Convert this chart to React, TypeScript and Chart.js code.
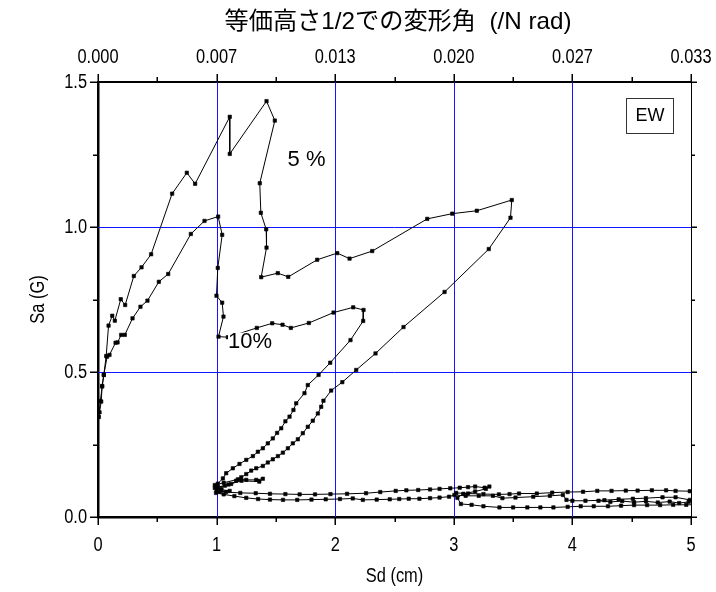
import React, { useEffect, useRef } from "react";
import { Chart, registerables } from "chart.js";

Chart.register(...registerables);

// ---- data ----
const sd5 = [0.005, 0.013, 0.027, 0.035, 0.049, 0.069, 0.089, 0.12, 0.142, 0.192, 0.229, 0.302, 0.367, 0.448, 0.625, 0.749, 0.819, 1.111, 1.111, 1.421, 1.491, 1.364, 1.373, 1.418, 1.421, 1.376, 1.516, 1.604, 1.848, 2.017, 2.121, 2.312, 2.776, 2.987, 3.194, 3.489, 3.478, 3.295, 2.922, 2.576, 2.34, 2.177, 2.06, 1.966, 1.901, 1.882, 1.854, 1.811, 1.769, 1.727, 1.685, 1.643, 1.601, 1.559, 1.517, 1.474, 1.432, 1.39, 1.334, 1.292, 1.25, 1.208, 1.165, 1.123, 1.07, 1.01, 0.985, 1.04, 1.11, 1.03, 0.995, 1.06, 1.15, 1.25, 1.35, 1.45, 1.56, 1.68, 1.8, 1.92, 2.04, 2.148, 2.233, 2.35, 2.46, 2.54, 2.62, 2.71, 2.8, 2.88, 2.96, 3.005, 3.1, 3.21, 3.33, 3.41, 3.52, 3.67, 3.81, 3.92, 3.95, 4.0, 4.11, 4.27, 4.39, 4.51, 4.62, 4.76, 4.87, 4.99, 5.12, 5.12, 4.99, 4.87, 4.79, 4.67, 4.55, 4.45, 4.33, 4.21, 4.09, 3.96, 3.83, 3.7, 3.55, 3.47, 3.38, 3.25, 3.12, 3.02];
const sa5 = [0.345, 0.361, 0.398, 0.452, 0.49, 0.555, 0.66, 0.694, 0.677, 0.751, 0.731, 0.831, 0.861, 0.906, 1.115, 1.187, 1.149, 1.38, 1.252, 1.434, 1.367, 1.151, 1.049, 0.992, 0.929, 0.827, 0.841, 0.828, 0.887, 0.91, 0.891, 0.917, 1.028, 1.046, 1.056, 1.093, 1.032, 0.924, 0.776, 0.655, 0.564, 0.507, 0.465, 0.436, 0.401, 0.38, 0.357, 0.332, 0.311, 0.289, 0.268, 0.254, 0.237, 0.222, 0.21, 0.199, 0.188, 0.176, 0.168, 0.16, 0.148, 0.137, 0.125, 0.114, 0.108, 0.104, 0.1, 0.094, 0.09, 0.087, 0.083, 0.078, 0.072, 0.066, 0.062, 0.06, 0.059, 0.059, 0.06, 0.061, 0.062, 0.064, 0.059, 0.06, 0.061, 0.062, 0.063, 0.063, 0.065, 0.067, 0.07, 0.076, 0.073, 0.073, 0.073, 0.065, 0.067, 0.07, 0.073, 0.076, 0.059, 0.056, 0.056, 0.058, 0.061, 0.063, 0.065, 0.068, 0.068, 0.059, 0.062, 0.088, 0.089, 0.09, 0.092, 0.092, 0.091, 0.091, 0.09, 0.09, 0.087, 0.086, 0.084, 0.081, 0.081, 0.079, 0.078, 0.079, 0.081, 0.083];

const sd10 = [0.005, 0.02, 0.035, 0.049, 0.077, 0.097, 0.148, 0.165, 0.195, 0.226, 0.291, 0.358, 0.417, 0.513, 0.592, 0.783, 0.898, 1.013, 1.047, 1.01, 0.999, 1.047, 1.058, 1.016, 1.095, 1.339, 1.469, 1.556, 1.626, 1.778, 1.986, 2.152, 2.239, 2.236, 2.129, 1.958, 1.86, 1.769, 1.741, 1.671, 1.648, 1.615, 1.58, 1.545, 1.51, 1.474, 1.432, 1.39, 1.348, 1.306, 1.25, 1.193, 1.137, 1.081, 1.053, 1.01, 0.985, 1.06, 1.18, 1.25, 1.334, 1.39, 1.36, 1.21, 1.1, 1.0, 1.04, 1.0, 1.08, 1.2, 1.33, 1.45, 1.58, 1.7, 1.83, 1.96, 2.1, 2.26, 2.38, 2.51, 2.6, 2.7, 2.8, 2.88, 2.97, 3.05, 3.12, 3.18, 3.26, 3.3, 3.27, 3.18, 3.08, 3.03, 3.06, 3.15, 3.25, 3.385, 3.5, 3.62, 3.73, 3.84, 3.96, 4.07, 4.18, 4.3, 4.41, 4.52, 4.63, 4.74, 4.85, 4.96, 5.1, 5.1, 4.98, 4.9, 4.82, 4.72, 4.62, 4.52, 4.42, 4.32, 4.22];
const sa10 = [0.345, 0.4, 0.45, 0.49, 0.553, 0.559, 0.601, 0.602, 0.628, 0.628, 0.685, 0.725, 0.746, 0.811, 0.838, 0.976, 1.021, 1.036, 0.973, 0.859, 0.763, 0.739, 0.691, 0.622, 0.62, 0.652, 0.668, 0.663, 0.652, 0.669, 0.705, 0.723, 0.714, 0.676, 0.61, 0.532, 0.49, 0.455, 0.427, 0.392, 0.369, 0.346, 0.33, 0.306, 0.29, 0.271, 0.254, 0.237, 0.225, 0.21, 0.197, 0.183, 0.168, 0.151, 0.133, 0.115, 0.11, 0.118, 0.13, 0.128, 0.128, 0.132, 0.122, 0.125, 0.112, 0.1, 0.096, 0.09, 0.086, 0.083, 0.082, 0.08, 0.079, 0.078, 0.078, 0.079, 0.08, 0.082, 0.086, 0.09, 0.092, 0.093, 0.095, 0.097, 0.099, 0.101, 0.103, 0.105, 0.101, 0.105, 0.097, 0.088, 0.08, 0.066, 0.045, 0.042, 0.037, 0.033, 0.033, 0.033, 0.033, 0.033, 0.035, 0.037, 0.037, 0.037, 0.039, 0.041, 0.041, 0.041, 0.042, 0.042, 0.043, 0.05, 0.052, 0.048, 0.053, 0.05, 0.054, 0.051, 0.055, 0.052, 0.056];

const seriesNames = ["5 %", "10%"];
const bottomTicks = [0, 1, 2, 3, 4, 5];
const topTickLabels = ["0.000", "0.007", "0.013", "0.020", "0.027", "0.033"];
const leftTicks = [0, 0.5, 1.0, 1.5];
const xGridValues = [1, 2, 3, 4];
const yGridValues = [0.5, 1.0];
const boxLabel = "EW";
const topTitle = "等価高さ1/2での変形角  (/N rad)";
const xTitle = "Sd (cm)";
const yTitle = "Sa (G)";

const FONT = "'Liberation Sans', Arial, 'Noto Sans CJK JP', sans-serif";
const BLUE = "rgb(20,20,255)";
const CONDENSE = 0.82;

const toPoints = (xs: number[], ys: number[]) => xs.map((x, i) => ({ x, y: ys[i] }));

function drawText(ctx: any, text: string, x: number, y: number, size: number, align: string, sx: number, rot = 0) {
  ctx.save();
  ctx.translate(x, y);
  if (rot) ctx.rotate(rot);
  ctx.scale(sx, 1);
  ctx.font = `${size}px ${FONT}`;
  ctx.textAlign = align;
  ctx.textBaseline = "middle";
  ctx.fillStyle = "#000";
  ctx.fillText(text, 0, 0);
  ctx.restore();
}

const decorPlugin = {
  id: "decor",
  beforeDatasetsDraw(chart: any) {
    const ctx = chart.ctx;
    const { left, right, top, bottom } = chart.chartArea;
    const xs = chart.scales.x;
    const ys = chart.scales.y;
    ctx.save();
    ctx.strokeStyle = BLUE;
    ctx.lineWidth = 1;
    ctx.beginPath();
    xGridValues.forEach((v) => {
      const px = Math.round(xs.getPixelForValue(v)) + 0.5;
      ctx.moveTo(px, top);
      ctx.lineTo(px, bottom);
    });
    yGridValues.forEach((v) => {
      const py = Math.round(ys.getPixelForValue(v)) + 0.5;
      ctx.moveTo(left, py);
      ctx.lineTo(right, py);
    });
    ctx.stroke();
    ctx.restore();
  },
  afterDatasetsDraw(chart: any) {
    const ctx = chart.ctx;
    const xs = chart.scales.x;
    const ys = chart.scales.y;
    ctx.save();
    ctx.font = `22px ${FONT}`;
    ctx.textAlign = "center";
    ctx.textBaseline = "middle";
    ctx.fillStyle = "#000";
    ctx.fillText(seriesNames[0], xs.getPixelForValue(1.758), ys.getPixelForValue(1.232));
    const tx = xs.getPixelForValue(1.282);
    const ty = ys.getPixelForValue(0.605);
    const w = ctx.measureText(seriesNames[1]).width;
    ctx.fillStyle = "#fff";
    ctx.fillRect(tx - w / 2, ty - 9, w, 18);
    ctx.fillStyle = "#000";
    ctx.fillText(seriesNames[1], tx, ty);
    const bx0 = xs.getPixelForValue(4.456);
    const bx1 = xs.getPixelForValue(4.853);
    const by0 = ys.getPixelForValue(1.445);
    const by1 = ys.getPixelForValue(1.324);
    ctx.fillStyle = "#fff";
    ctx.fillRect(bx0, by0, bx1 - bx0, by1 - by0);
    ctx.strokeStyle = "#333";
    ctx.lineWidth = 1;
    ctx.strokeRect(Math.round(bx0) + 0.5, Math.round(by0) + 0.5, Math.round(bx1 - bx0), Math.round(by1 - by0));
    ctx.fillStyle = "#000";
    ctx.font = `18px ${FONT}`;
    ctx.fillText(boxLabel, (bx0 + bx1) / 2, (by0 + by1) / 2 + 1);
    ctx.restore();
  },
  afterDraw(chart: any) {
    const ctx = chart.ctx;
    const { left, right, top, bottom } = chart.chartArea;
    const xs = chart.scales.x;
    const ys = chart.scales.y;
    ctx.save();
    ctx.strokeStyle = "#000";
    ctx.lineWidth = 1.5;
    ctx.beginPath();
    for (let i = 0; i <= 10; i++) {
      const v = i * 0.5;
      const px = Math.round(xs.getPixelForValue(v)) + 0.25;
      const len = i % 2 === 0 ? 8 : 5;
      ctx.moveTo(px, bottom);
      ctx.lineTo(px, bottom + len);
      ctx.moveTo(px, top);
      ctx.lineTo(px, top - len);
    }
    for (let i = 0; i <= 6; i++) {
      const v = i * 0.25;
      const py = Math.round(ys.getPixelForValue(v)) + 0.25;
      const len = i % 2 === 0 ? 8 : 5;
      ctx.moveTo(left, py);
      ctx.lineTo(left - len, py);
      ctx.moveTo(right, py);
      ctx.lineTo(right + (i % 2 === 0 ? 6 : 4), py);
    }
    ctx.stroke();
    ctx.restore();

    // tick labels (condensed sans, like Arial Narrow)
    bottomTicks.forEach((v, i) => {
      const px = xs.getPixelForValue(v);
      drawText(ctx, String(v), px, 545, 20, "center", CONDENSE);
      drawText(ctx, topTickLabels[i], px, 57, 20, "center", CONDENSE);
    });
    leftTicks.forEach((v) => {
      drawText(ctx, v.toFixed(1), 87, ys.getPixelForValue(v), 20, "right", CONDENSE);
    });
    // axis titles
    const cx = (left + right) / 2;
    drawText(ctx, xTitle, cx, 576, 20, "center", CONDENSE);
    drawText(ctx, yTitle, 38, (top + bottom) / 2, 20, "center", CONDENSE, -Math.PI / 2);
    // top title, fitted to its width in the reference
    ctx.save();
    ctx.font = `24px ${FONT}`;
    const tw = ctx.measureText(topTitle).width;
    ctx.restore();
    drawText(ctx, topTitle, 398, 22, 24, "center", 347 / tw);
  },
};

export default function App() {
  const ref = useRef<HTMLCanvasElement | null>(null);
  useEffect(() => {
    if (!ref.current) return;
    const pointOpts = {
      borderColor: "#000",
      backgroundColor: "#000",
      borderWidth: 1,
      pointStyle: "rect",
      pointRadius: 2.4,
      pointBorderWidth: 0.6,
      pointBackgroundColor: "#000",
      pointBorderColor: "#000",
      showLine: true,
      tension: 0,
    };
    const chart = new Chart(ref.current, {
      type: "scatter",
      data: {
        datasets: [
          { label: seriesNames[0], data: toPoints(sd5, sa5), ...pointOpts },
          { label: seriesNames[1], data: toPoints(sd10, sa10), ...pointOpts },
        ],
      },
      options: {
        responsive: false,
        animation: false,
        layout: { padding: 0 },
        plugins: { legend: { display: false }, tooltip: { enabled: false }, title: { display: false } },
        scales: {
          x: {
            type: "linear",
            position: "bottom",
            min: 0,
            max: 5,
            afterFit: (s: any) => { s.height = 75; },
            ticks: { display: false, stepSize: 1 },
            grid: { display: false, drawTicks: false },
            border: { display: true, color: "#000", width: 2.5 },
          },
          x2: {
            type: "linear",
            position: "top",
            min: 0,
            max: 5,
            afterFit: (s: any) => { s.height = 82; },
            ticks: { display: false, stepSize: 1 },
            grid: { display: false, drawTicks: false },
            border: { display: true, color: "#000", width: 2 },
          },
          y: {
            type: "linear",
            position: "left",
            min: 0,
            max: 1.5,
            afterFit: (s: any) => { s.width = 98; },
            ticks: { display: false, stepSize: 0.5 },
            grid: { display: false, drawTicks: false },
            border: { display: true, color: "#000", width: 2.5 },
          },
          y2: {
            type: "linear",
            position: "right",
            min: 0,
            max: 1.5,
            afterFit: (s: any) => { s.width = 25; },
            ticks: { display: false },
            grid: { display: false, drawTicks: false },
            border: { display: true, color: "#000", width: 1 },
          },
        },
      },
      plugins: [decorPlugin],
    } as any);
    return () => chart.destroy();
  }, []);
  return (
    <div style={{ position: "absolute", left: 0, top: 0, width: 716, height: 592, background: "#fff" }}>
      <canvas ref={ref} width={716} height={592} style={{ display: "block" }} />
    </div>
  );
}
